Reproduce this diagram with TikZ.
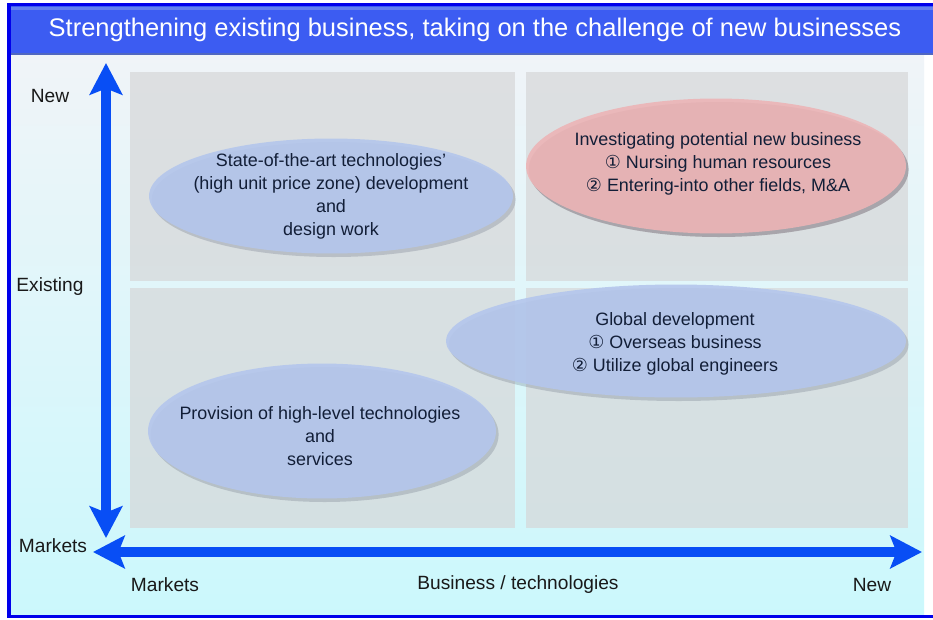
\documentclass[tikz,border=0pt]{standalone}
\usepackage{fontspec}
\setmainfont{Liberation Sans}
\newfontfamily\circfont{DejaVu Sans}
\usetikzlibrary{arrows.meta,shapes.geometric,shadows}

\definecolor{frameBlue}{RGB}{0,0,235}
\definecolor{titleBlue}{RGB}{60,92,242}
\definecolor{titleEdge}{RGB}{100,128,240}
\definecolor{arrowBlue}{RGB}{8,78,245}
\definecolor{panelTop}{RGB}{240,244,248}
\definecolor{panelBottom}{RGB}{203,248,252}
\definecolor{quadGray}{RGB}{214,215,216}
\definecolor{bubbleBlue}{RGB}{180,198,236}
\definecolor{bubbleRed}{RGB}{236,180,182}
\definecolor{bubbleText}{RGB}{18,30,55}

\newcommand{\circnum}[1]{{\circfont #1}}

\tikzset{
	quadrant/.style={fill=quadGray, fill opacity=0.7},
	bubble/.style={ellipse, inner sep=0pt, fill=bubbleBlue, fill opacity=0.9,
		drop shadow={shadow xshift=1.5pt, shadow yshift=-2pt, fill=black!50!bubbleBlue, opacity=0.25}},
	bubblelabel/.style={align=center, text=bubbleText, font=\fontsize{10.2}{13.1}\selectfont},
	axislabel/.style={text=black!90, font=\fontsize{10.9}{12}\selectfont},
	bigarrow/.style={arrowBlue, line width=6.2pt,
		{Stealth[length=18pt, width=18.5pt, inset=3.5pt]}-{Stealth[length=18pt, width=18.5pt, inset=3.5pt]}},
}

\begin{document}
\begin{tikzpicture}[x=0.02cm, y=-0.02cm]
		\useasboundingbox (0, 0) rectangle (933, 619);
		% background panel and frame
		\fill[white] (0, 0) rectangle (933, 619);
		\shade[top color=panelTop, bottom color=panelBottom] (11, 55) rectangle (924, 616);
		\fill[titleBlue] (11, 6) rectangle (933, 55);
		\fill[titleEdge] (11, 7) rectangle (933, 10);
		\fill[titleEdge!80!black] (11, 53) rectangle (933, 55);
		\fill[frameBlue] (7, 3) rectangle (933, 6);
		\fill[frameBlue] (7, 3) rectangle (11, 618);
		\fill[frameBlue] (7, 615) rectangle (933, 618);
		\node[white, font=\fontsize{14.5}{17}\selectfont] (title) at (475, 30) {Strengthening existing business, taking on the challenge of new businesses};
		% four quadrants
		\fill[quadrant] (130, 72) rectangle (515, 281);
		\fill[quadrant] (526, 72) rectangle (908, 281);
		\fill[quadrant] (130, 288) rectangle (515, 528);
		\fill[quadrant] (526, 288) rectangle (908, 528);
		% bubbles
		\node[bubble, minimum width=7.28cm, minimum height=2.3cm] (tech) at (331, 196) {};
		\node[bubblelabel] (techText) at (tech) {State-of-the-art technologies’\\(high unit price zone) development\\and\\design work};
		\node[bubble, fill=bubbleRed, minimum width=7.6cm, minimum height=2.7cm, drop shadow={shadow xshift=1.5pt, shadow yshift=-2pt, fill=black!50!bubbleRed, opacity=0.25}] (newBiz) at (716, 166) {};
		\node[bubblelabel] (newBizText) at (718, 164) {Investigating potential new business\\\circnum{①} Nursing human resources\\\circnum{②} Entering-into other fields, M\&A};
		\node[bubble, minimum width=9.2cm, minimum height=2.26cm] (global) at (676, 341) {};
		\node[bubblelabel] (globalText) at (675, 344) {Global development\\\circnum{①} Overseas business\\\circnum{②} Utilize global engineers};
		\node[bubble, minimum width=6.96cm, minimum height=2.7cm] (services) at (322, 431) {};
		\node[bubblelabel] (servicesText) at (320, 436) {Provision of high-level technologies\\and\\services};
		% axes
		\coordinate (yTop) at (106, 63);
		\coordinate (yBottom) at (106, 538);
		\coordinate (xLeft) at (93, 552);
		\coordinate (xRight) at (922, 552);
		\draw[bigarrow] (yBottom) -- (yTop);
		\draw[bigarrow] (xLeft) -- (xRight);
		% axis labels
		\node[axislabel] (newY) at (50, 96) {New};
		\node[axislabel] (existingY) at (50, 287) {Existing};
		\node[axislabel] (marketsY) at (53, 546) {Markets};
		\node[axislabel] (marketsX) at (165, 585) {Markets};
		\node[axislabel] (bizTech) at (518, 585) {Business / technologies};
		\node[axislabel] (newX) at (872, 585) {New};
	\end{tikzpicture}
\end{document}
